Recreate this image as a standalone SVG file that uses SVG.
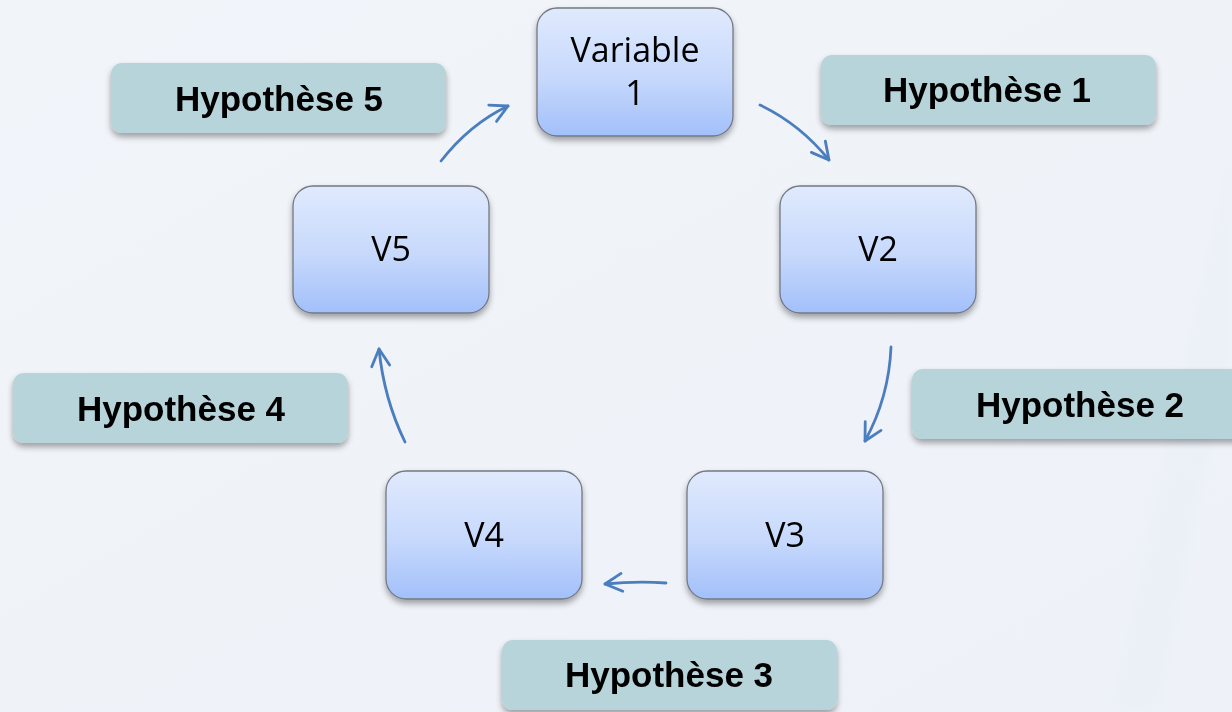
<svg xmlns="http://www.w3.org/2000/svg" width="1232" height="712" viewBox="0 0 1232 712">
  <defs>
    <linearGradient id="nodeFill" x1="0" y1="0" x2="0" y2="1">
      <stop offset="0" stop-color="#e0eafd"/>
      <stop offset="0.55" stop-color="#c6d8fc"/>
      <stop offset="1" stop-color="#a2c0fa"/>
    </linearGradient>
    <linearGradient id="bg" x1="0" y1="0" x2="1" y2="1">
      <stop offset="0" stop-color="#f1f4f9"/>
      <stop offset="1" stop-color="#eef2f8"/>
    </linearGradient>
    <filter id="shadow" x="-10%" y="-10%" width="120%" height="130%">
      <feGaussianBlur in="SourceAlpha" stdDeviation="3"/>
      <feOffset dx="0" dy="4" result="b"/>
      <feComponentTransfer><feFuncA type="linear" slope="0.35"/></feComponentTransfer>
      <feMerge><feMergeNode/><feMergeNode in="SourceGraphic"/></feMerge>
    </filter>
    <filter id="soft"><feGaussianBlur stdDeviation="6"/></filter>
    <marker id="head" viewBox="0 0 22 22" refX="19" refY="11" markerWidth="22" markerHeight="22" markerUnits="userSpaceOnUse" orient="auto">
      <path d="M2,2 L19,11 L2,20" fill="none" stroke="#4a7ebf" stroke-width="2.8" stroke-linecap="round" stroke-linejoin="round"/>
    </marker>
    <style>
      .node rect { fill: url(#nodeFill); stroke: #737884; stroke-width: 1.3; }
      .node text { font-family: "Open Sans", "Liberation Sans", sans-serif; font-size: 34px; fill: #000; text-anchor: middle; }
      .hyp rect { fill: #b7d4da; }
      .hyp text { font-family: "Liberation Sans", Arial, sans-serif; font-weight: bold; font-size: 35px; fill: #000; text-anchor: middle; }
      .link { fill: none; stroke: #4a7ebf; stroke-width: 2.8; stroke-linecap: round; marker-end: url(#head); }
    </style>
  </defs>

  <!-- backdrop with a faint diagonal facet on the right -->
  <rect width="1232" height="712" fill="url(#bg)"/>
  <g filter="url(#soft)">
    <polygon points="1232,150 1232,330 1160,712 1110,712" fill="#e9eef5" opacity="0.55"/>
  </g>

  <!-- hypothesis labels -->
  <g id="hyp5" class="hyp" filter="url(#shadow)">
    <rect x="111" y="63" width="335" height="70" rx="11"/>
    <text x="279" y="111">Hypothèse 5</text>
  </g>
  <g id="hyp1" class="hyp" filter="url(#shadow)">
    <rect x="821" y="55" width="335" height="70" rx="11"/>
    <text x="987" y="102">Hypothèse 1</text>
  </g>
  <g id="hyp2" class="hyp" filter="url(#shadow)">
    <rect x="912" y="369" width="340" height="70" rx="11"/>
    <text x="1080" y="417">Hypothèse 2</text>
  </g>
  <g id="hyp4" class="hyp" filter="url(#shadow)">
    <rect x="13" y="373" width="335" height="70" rx="11"/>
    <text x="181" y="421">Hypothèse 4</text>
  </g>
  <g id="hyp3" class="hyp" filter="url(#shadow)">
    <rect x="502" y="640" width="335" height="70" rx="11"/>
    <text x="669" y="687">Hypothèse 3</text>
  </g>

  <!-- variable nodes -->
  <g id="v1" class="node" filter="url(#shadow)">
    <rect x="537" y="8" width="196" height="128" rx="20"/>
    <text x="635" y="62">Variable</text>
    <text x="635" y="105">1</text>
  </g>
  <g id="v2" class="node" filter="url(#shadow)">
    <rect x="780" y="186" width="196" height="127" rx="20"/>
    <text x="878" y="261">V2</text>
  </g>
  <g id="v3" class="node" filter="url(#shadow)">
    <rect x="687" y="471" width="196" height="128" rx="20"/>
    <text x="785" y="547">V3</text>
  </g>
  <g id="v4" class="node" filter="url(#shadow)">
    <rect x="386" y="471" width="196" height="128" rx="20"/>
    <text x="484" y="547">V4</text>
  </g>
  <g id="v5" class="node" filter="url(#shadow)">
    <rect x="293" y="186" width="196" height="127" rx="20"/>
    <text x="391" y="261">V5</text>
  </g>

  <!-- cycle connectors -->
  <g id="connectors">
    <path class="link" d="M760,105 Q800,124 829,160"/>
    <path class="link" d="M891,347 Q889,397 865,441"/>
    <path class="link" d="M666,583 Q636,581 605,584"/>
    <path class="link" d="M405,442 Q384,399 379,349"/>
    <path class="link" d="M441,161 Q470,124 508,106"/>
  </g>
</svg>
